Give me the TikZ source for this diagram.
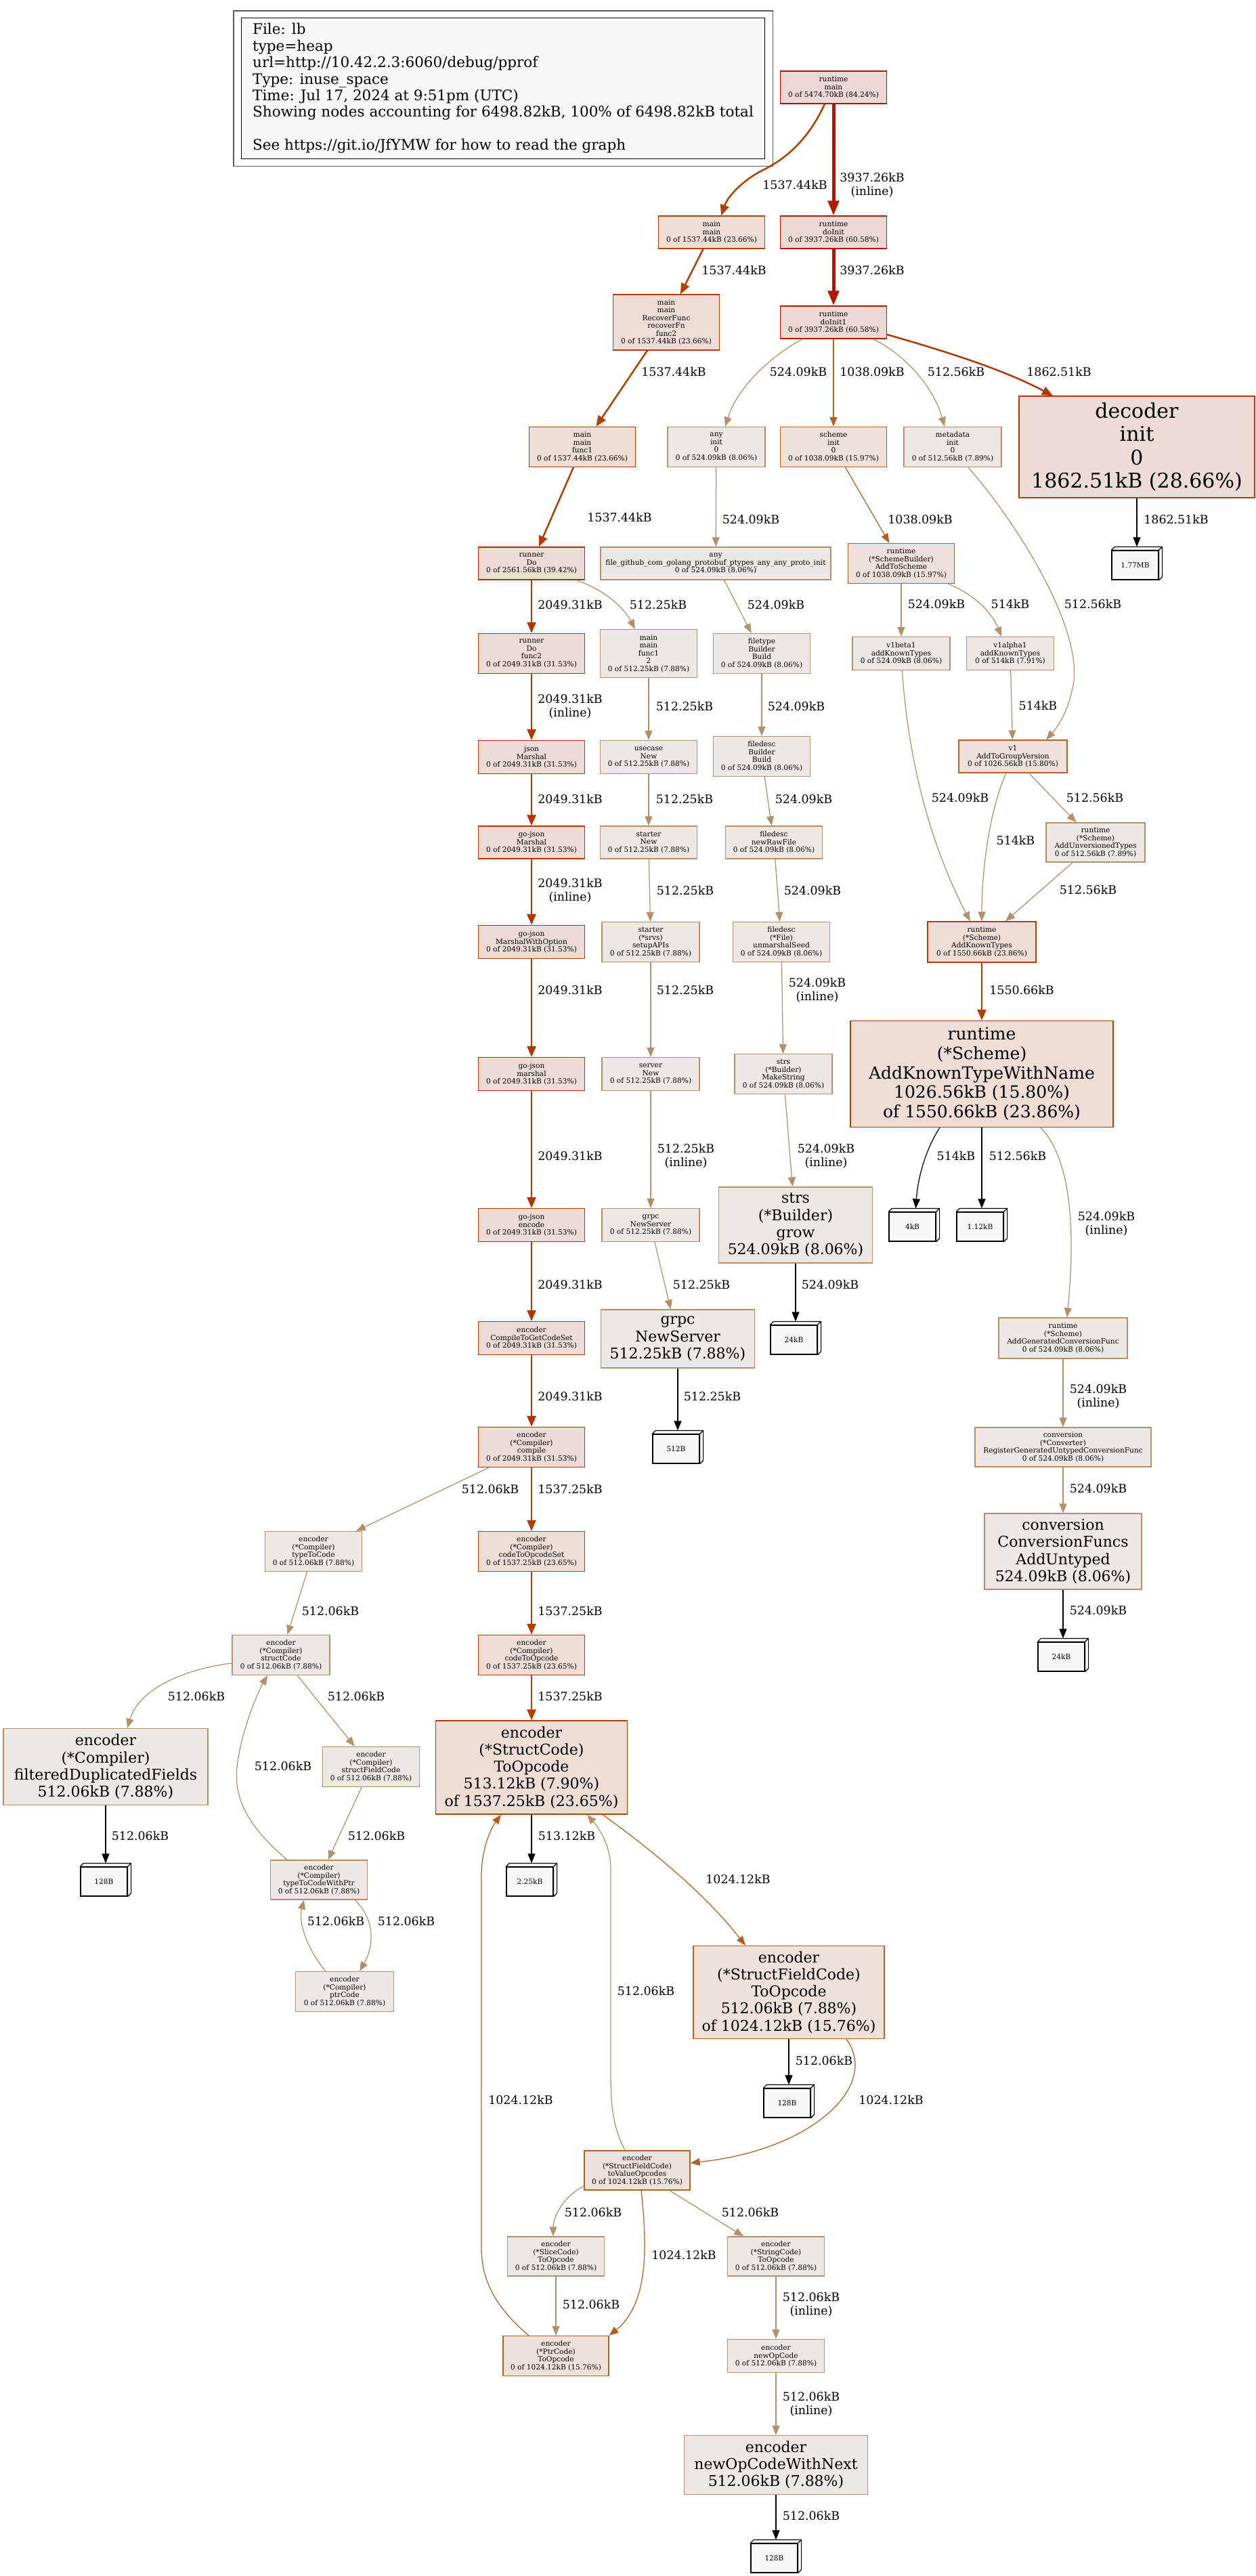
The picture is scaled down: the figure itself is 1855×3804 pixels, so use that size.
\documentclass[tikz,border=0pt]{standalone}
\usepackage{fontspec}
\setmainfont{DejaVu Serif}
\usepackage{tikz}
\usetikzlibrary{arrows.meta,calc}
% heat scale of the profile: fill / border
\definecolor{f84}{HTML}{EDD6D5}
\definecolor{f60}{HTML}{EDD8D5}
\definecolor{f39}{HTML}{EDDBD5}
\definecolor{f31}{HTML}{EDDCD5}
\definecolor{f28}{HTML}{EDDCD5}
\definecolor{f23}{HTML}{EDDDD5}
\definecolor{f15}{HTML}{EDE2DA}
\definecolor{f8} {HTML}{EDE8E3}
\definecolor{b84}{HTML}{B20800}
\definecolor{b60}{HTML}{B21800}
\definecolor{b39}{HTML}{B22B00}
\definecolor{b31}{HTML}{B23400}
\definecolor{b28}{HTML}{B23700}
\definecolor{b23}{HTML}{B23E00}
\definecolor{b15}{HTML}{B26023}
\definecolor{b8} {HTML}{B2906B}
\definecolor{cLeaf}{HTML}{F8F8F8}
\newcommand\fsmall{\fontsize{10.6}{11.5}\selectfont}
\newcommand\flabel{\fontsize{17.4}{20.5}\selectfont}
\newcommand\flegend{\fontsize{21.5}{24.4}\selectfont}
\newcommand\fbig{\fontsize{22}{25.2}\selectfont}
\newcommand\fbigger{\fontsize{25}{28.7}\selectfont}
\newcommand\fhuge{\fontsize{30}{34.5}\selectfont}
% back and side faces of a 3d leaf box
\newcommand\boxdepth[1]{%
  \filldraw[fill=cLeaf, draw=black, line width=1.2pt, line join=round]
    (#1.north west) -- ++(5pt,5pt) -- ([shift={(5pt,5pt)}]#1.north east)
    -- ([shift={(5pt,5pt)}]#1.south east) -- (#1.south east) -- (#1.north east) -- cycle
    (#1.north east) -- ++(5pt,5pt);}

\begin{document}
\begin{tikzpicture}[
    x=1pt, y=-1pt,
    fn/.style={rectangle, draw, line width=1.2pt, align=center, font=\fsmall, inner sep=2pt},
    sz/.style 2 args={minimum width=#1pt, minimum height=#2pt},
    leaf/.style={rectangle, draw=black, fill=cLeaf, line width=1.2pt,
                 minimum width=69pt, minimum height=43pt, font=\fsmall, inner sep=1pt},
    lbl/.style={font=\flabel, align=center, inner sep=0pt},
    % edge thickness follows the weight (penwidth 1, 2, 4)
    flow/.style={-{Triangle[length=14pt,width=11pt]}, line width=1.25pt},
    heavy/.style={-{Triangle[length=16pt,width=13pt]}, line width=2.5pt},
    hot/.style={-{Triangle[length=22pt,width=16pt]}, line width=5pt},
    legendbox/.style={draw=black, fill=cLeaf, line width=1.2pt, anchor=north west,
                 align=left, font=\flegend, minimum width=773pt, minimum height=205pt,
                 inner ysep=8pt},
]
\useasboundingbox (0,0) rectangle (1855,3804);

% --- Legend
\node[legendbox] (legend) at (356,26)
    {File: lb\\type=heap\\url=http://10.42.2.3:6060/debug/pprof\\Type: inuse\_space\\
     Time: Jul 17, 2024 at 9:51pm (UTC)\\
     Showing nodes accounting for 6498.82kB, 100\% of 6498.82kB total\\[24.4pt]
     See https://git.io/JfYMW for how to read the graph};
\draw[line width=1.2pt, draw=black!65] ([shift={(-11pt,10pt)}]legend.north west)
    rectangle ([shift={(11pt,-10pt)}]legend.south east);

% --- Runtime entry and init
\node[fn, fill=f84, draw=b84, sz={157}{48}] (rtmain) at (1231,129)
    {runtime\\main\\0 of 5474.70kB (84.24\%)};
\node[fn, fill=f23, draw=b23, sz={157}{48}] (mmain) at (1051,343)
    {main\\main\\0 of 1537.44kB (23.66\%)};
\node[fn, fill=f60, draw=b60, sz={157}{48}] (doinit) at (1231,343)
    {runtime\\doInit\\0 of 3937.26kB (60.58\%)};
\node[fn, fill=f23, draw=b23, sz={157}{82}] (recover) at (984,476)
    {main\\main\\RecoverFunc\\recoverFn\\func2\\0 of 1537.44kB (23.66\%)};
\node[fn, fill=f60, draw=b60, sz={157}{48}] (doinit1) at (1231,476)
    {runtime\\doInit1\\0 of 3937.26kB (60.58\%)};
\node[fn, fill=f23, draw=b23, sz={157}{59}] (mfunc1) at (860,660)
    {main\\main\\func1\\0 of 1537.44kB (23.66\%)};
\node[fn, fill=f8, draw=b8, sz={144}{59}] (anyinit) at (1058,660)
    {any\\init\\0\\0 of 524.09kB (8.06\%)};
\node[fn, fill=f15, draw=b15, sz={157}{59}] (schinit) at (1231,660)
    {scheme\\init\\0\\0 of 1038.09kB (15.97\%)};
\node[fn, fill=f8, draw=b8, sz={144}{59}] (metainit) at (1407,660)
    {metadata\\init\\0\\0 of 512.56kB (7.89\%)};
\node[fn, fill=f28, draw=b28, font=\fhuge, sz={348}{150}] (decoder) at (1679,660)
    {decoder\\init\\0\\1862.51kB (28.66\%)};

% --- Runner / protobuf / scheme rows
\node[fn, fill=f39, draw=b39, sz={157}{48}] (runner) at (785,832)
    {runner\\Do\\0 of 2561.56kB (39.42\%)};
\node[fn, fill=f8, draw=b8, sz={340}{48}] (anyfile) at (1057,832)
    {any\\file\_github\_com\_golang\_protobuf\_ptypes\_any\_any\_proto\_init\\0 of 524.09kB (8.06\%)};
\node[fn, fill=f15, draw=b15, sz={157}{59}] (addsch) at (1331,832)
    {runtime\\(*SchemeBuilder)\\AddToScheme\\0 of 1038.09kB (15.97\%)};
\node[leaf] (mb177) at (1676.5,834.5) {1.77MB};

\node[fn, fill=f31, draw=b31, sz={157}{59}] (dofunc2) at (785,965)
    {runner\\Do\\func2\\0 of 2049.31kB (31.53\%)};
\node[fn, fill=f8, draw=b8, sz={143}{71}] (mfunc12) at (958,965)
    {main\\main\\func1\\2\\0 of 512.25kB (7.88\%)};
\node[fn, fill=f8, draw=b8, sz={143}{59}] (ftbuild) at (1125,965)
    {filetype\\Builder\\Build\\0 of 524.09kB (8.06\%)};
\node[fn, fill=f8, draw=b8, sz={144}{49}] (v1beta) at (1331,965)
    {v1beta1\\addKnownTypes\\0 of 524.09kB (8.06\%)};
\node[fn, fill=f8, draw=b8, sz={129}{49}] (v1alpha) at (1492,965)
    {v1alpha1\\addKnownTypes\\0 of 514kB (7.91\%)};

\node[fn, fill=f31, draw=b31, sz={157}{49}] (json) at (785,1118)
    {json\\Marshal\\0 of 2049.31kB (31.53\%)};
\node[fn, fill=f8, draw=b8, sz={143}{49}] (usecase) at (958,1118)
    {usecase\\New\\0 of 512.25kB (7.88\%)};
\node[fn, fill=f8, draw=b8, sz={143}{59}] (fdbuild) at (1125,1117)
    {filedesc\\Builder\\Build\\0 of 524.09kB (8.06\%)};
\node[fn, fill=f15, draw=b15, sz={160}{48}] (atgv) at (1496,1117)
    {v1\\AddToGroupVersion\\0 of 1026.56kB (15.80\%)};

\node[fn, fill=f31, draw=b31, sz={157}{48}] (gjmarshal) at (785,1244)
    {go-json\\Marshal\\0 of 2049.31kB (31.53\%)};
\node[fn, fill=f8, draw=b8, sz={143}{48}] (stnew) at (958,1244)
    {starter\\New\\0 of 512.25kB (7.88\%)};
\node[fn, fill=f8, draw=b8, sz={143}{48}] (rawfile) at (1143,1244)
    {filedesc\\newRawFile\\0 of 524.09kB (8.06\%)};
\node[fn, fill=f8, draw=b8, sz={146}{58}] (unvers) at (1618,1244)
    {runtime\\(*Scheme)\\AddUnversionedTypes\\0 of 512.56kB (7.89\%)};

\node[fn, fill=f31, draw=b31, sz={157}{49}] (gjopt) at (785,1391)
    {go-json\\MarshalWithOption\\0 of 2049.31kB (31.53\%)};
\node[fn, fill=f8, draw=b8, sz={144}{59}] (setup) at (961,1391)
    {starter\\(*srvs)\\setupAPIs\\0 of 512.25kB (7.88\%)};
\node[fn, fill=f8, draw=b8, sz={143}{59}] (seed) at (1154,1391)
    {filedesc\\(*File)\\unmarshalSeed\\0 of 524.09kB (8.06\%)};
\node[fn, fill=f23, draw=b23, sz={160}{60}] (addkt) at (1450,1391)
    {runtime\\(*Scheme)\\AddKnownTypes\\0 of 1550.66kB (23.86\%)};

\node[fn, fill=f31, draw=b31, sz={157}{49}] (gjlow) at (785,1586)
    {go-json\\marshal\\0 of 2049.31kB (31.53\%)};
\node[fn, fill=f8, draw=b8, sz={144}{49}] (srvnew) at (961,1586)
    {server\\New\\0 of 512.25kB (7.88\%)};
\node[fn, fill=f8, draw=b8, sz={144}{59}] (mkstr) at (1157,1586)
    {strs\\(*Builder)\\MakeString\\0 of 524.09kB (8.06\%)};
\node[fn, fill=f23, draw=b23, font=\fbigger, sz={388}{157}] (addktwn) at (1450,1586)
    {runtime\\(*Scheme)\\AddKnownTypeWithName\\1026.56kB (15.80\%)\\of 1550.66kB (23.86\%)};

\node[fn, fill=f31, draw=b31, sz={157}{49}] (gjenc) at (785,1809)
    {go-json\\encode\\0 of 2049.31kB (31.53\%)};
\node[fn, fill=f8, draw=b8, sz={144}{49}] (grpcns) at (961,1809)
    {grpc\\NewServer\\0 of 512.25kB (7.88\%)};
\node[fn, fill=f8, draw=b8, font=\fbig, sz={227}{112}] (grow) at (1175,1809)
    {strs\\(*Builder)\\grow\\524.09kB (8.06\%)};
\node[leaf] (kb4) at (1347.5,1811.5) {4kB};
\node[leaf] (kb112) at (1447.5,1811.5) {1.12kB};

\node[fn, fill=f31, draw=b31, sz={157}{49}] (getcs) at (785,1976)
    {encoder\\CompileToGetCodeSet\\0 of 2049.31kB (31.53\%)};
\node[fn, fill=f8, draw=b8, font=\fbig, sz={227}{86}] (grpcbig) at (1001,1977)
    {grpc\\NewServer\\512.25kB (7.88\%)};
\node[leaf] (kb24a) at (1172.5,1978.5) {24kB};
\node[fn, fill=f8, draw=b8, sz={190}{60}] (gencf) at (1570,1976)
    {runtime\\(*Scheme)\\AddGeneratedConversionFunc\\0 of 524.09kB (8.06\%)};

% --- Encoder
\node[fn, fill=f31, draw=b31, sz={157}{59}] (compile) at (785,2137)
    {encoder\\(*Compiler)\\compile\\0 of 2049.31kB (31.53\%)};
\node[leaf] (b512) at (998.5,2139.5) {512B};
\node[fn, fill=f8, draw=b8, sz={260}{58}] (reguntyped) at (1570,2137)
    {conversion\\(*Converter)\\RegisterGeneratedUntypedConversionFunc\\0 of 524.09kB (8.06\%)};

\node[fn, fill=f8, draw=b8, sz={143}{59}] (typecode) at (463,2291)
    {encoder\\(*Compiler)\\typeToCode\\0 of 512.06kB (7.88\%)};
\node[fn, fill=f23, draw=b23, sz={157}{59}] (opset) at (785,2291)
    {encoder\\(*Compiler)\\codeToOpcodeSet\\0 of 1537.25kB (23.65\%)};
\node[fn, fill=f8, draw=b8, font=\fbig, sz={232}{112}] (untyped) at (1570,2291)
    {conversion\\ConversionFuncs\\AddUntyped\\524.09kB (8.06\%)};

\node[fn, fill=f8, draw=b8, sz={144}{59}] (structc) at (415,2444)
    {encoder\\(*Compiler)\\structCode\\0 of 512.06kB (7.88\%)};
\node[fn, fill=f23, draw=b23, sz={157}{59}] (opcode) at (785,2444)
    {encoder\\(*Compiler)\\codeToOpcode\\0 of 1537.25kB (23.65\%)};
\node[leaf] (kb24b) at (1567.5,2446.5) {24kB};

\node[fn, fill=f8, draw=b8, font=\fbig, sz={302}{113}] (filtdup) at (156,2609)
    {encoder\\(*Compiler)\\filteredDuplicatedFields\\512.06kB (7.88\%)};
\node[fn, fill=f8, draw=b8, sz={143}{59}] (fieldc) at (548,2609)
    {encoder\\(*Compiler)\\structFieldCode\\0 of 512.06kB (7.88\%)};
\node[fn, fill=f23, draw=b23, font=\fbig, sz={283}{138}] (scto) at (785,2610)
    {encoder\\(*StructCode)\\ToOpcode\\513.12kB (7.90\%)\\of 1537.25kB (23.65\%)};

\node[leaf] (b128a) at (153.5,2778.5) {128B};
\node[fn, fill=f8, draw=b8, sz={143}{58}] (withptr) at (471,2776)
    {encoder\\(*Compiler)\\typeToCodeWithPtr\\0 of 512.06kB (7.88\%)};
\node[leaf] (kb225) at (782.5,2778.5) {2.25kB};

\node[fn, fill=f8, draw=b8, sz={145}{59}] (ptrc) at (509,2941)
    {encoder\\(*Compiler)\\ptrCode\\0 of 512.06kB (7.88\%)};
\node[fn, fill=f15, draw=b15, font=\fbig, sz={282}{137}] (sfcto) at (1165,2942)
    {encoder\\(*StructFieldCode)\\ToOpcode\\512.06kB (7.88\%)\\of 1024.12kB (15.76\%)};
\node[leaf] (b128b) at (1162.5,3105.5) {128B};

\node[fn, fill=f15, draw=b15, sz={156}{58}] (valops) at (941,3205)
    {encoder\\(*StructFieldCode)\\toValueOpcodes\\0 of 1024.12kB (15.76\%)};
\node[fn, fill=f8, draw=b8, sz={143}{58}] (slicec) at (821,3332)
    {encoder\\(*SliceCode)\\ToOpcode\\0 of 512.06kB (7.88\%)};
\node[fn, fill=f8, draw=b8, sz={143}{58}] (stringc) at (1146,3332)
    {encoder\\(*StringCode)\\ToOpcode\\0 of 512.06kB (7.88\%)};
\node[fn, fill=f15, draw=b15, sz={156}{59}] (ptrto) at (821,3479)
    {encoder\\(*PtrCode)\\ToOpcode\\0 of 1024.12kB (15.76\%)};
\node[fn, fill=f8, draw=b8, sz={143}{49}] (newop) at (1146,3479)
    {encoder\\newOpCode\\0 of 512.06kB (7.88\%)};
\node[fn, fill=f8, draw=b8, font=\fbig, sz={271}{87}] (newopnext) at (1146,3640)
    {encoder\\newOpCodeWithNext\\512.06kB (7.88\%)};
\node[leaf] (b128c) at (1143.5,3777.5) {128B};

\boxdepth{mb177} \boxdepth{kb4} \boxdepth{kb112} \boxdepth{kb24a} \boxdepth{b512}
\boxdepth{kb24b} \boxdepth{b128a} \boxdepth{kb225} \boxdepth{b128b} \boxdepth{b128c}

% --- Calls: runtime entry and init
\draw[heavy, draw=b23] ([xshift=-13pt]rtmain.south) .. controls (1190,215) and (1150,240) .. (1125,252)
    .. controls (1095,268) and (1075,290) .. ([xshift=14pt]mmain.north) node[lbl] at (1174,273) {1537.44kB};
\draw[hot, draw=b60] (rtmain) -- (doinit) node[lbl] at (1288,273) {3937.26kB\\(inline)};
\draw[heavy, draw=b23] (mmain) -- (recover) node[lbl] at (1084,399) {1537.44kB};
\draw[hot, draw=b60] (doinit) -- (doinit1) node[lbl] at (1288,399) {3937.26kB};
\draw[heavy, draw=b23] (recover) -- (mfunc1) node[lbl] at (995,549) {1537.44kB};
\draw[heavy, draw=b23] (mfunc1) -- (runner) node[lbl] at (915,764) {1537.44kB};
\draw[flow, draw=b8] ([xshift=-46pt]doinit1.south) .. controls (1140,525) and (1090,570)
    .. ([xshift=13pt]anyinit.north) node[lbl] at (1179,549) {524.09kB};
\draw[flow, draw=b15] (doinit1) -- (schinit) node[lbl] at (1288,549) {1038.09kB};
\draw[flow, draw=b8] ([xshift=58pt]doinit1.south) .. controls (1340,525) and (1380,575)
    .. ([xshift=-12pt]metainit.north) node[lbl] at (1412,549) {512.56kB};
\draw[heavy, draw=b28] ([yshift=-18pt]doinit1.east) .. controls (1400,520) and (1480,545)
    .. ([xshift=-124pt]decoder.north) node[lbl] at (1564,549) {1862.51kB};
\draw[flow, draw=b8] (anyinit) -- (anyfile) node[lbl] at (1109,767) {524.09kB};
\draw[flow, draw=b15] (schinit) -- (addsch) node[lbl] at (1359,767) {1038.09kB};
\draw[flow, draw=b8] ([xshift=23pt]metainit.south) .. controls (1500,770) and (1595,920) .. (1586,1005)
    .. controls (1580,1045) and (1565,1070) .. ([xshift=49pt]atgv.north) node[lbl] at (1614,892) {512.56kB};
\draw[flow] (decoder) -- ([xshift=2.5pt,yshift=5pt]mb177.north) node[lbl] at (1737,767) {1862.51kB};

% --- Calls: runner, protobuf, scheme
\draw[heavy, draw=b31] (runner) -- (dofunc2) node[lbl] at (842,893) {2049.31kB};
\draw[flow, draw=b8] ([xshift=66pt]runner.south) .. controls (890,870) and (920,895)
    .. ([xshift=-20pt]mfunc12.north) node[lbl] at (972,893) {512.25kB};
\draw[flow, draw=b8] (anyfile) -- (ftbuild) node[lbl] at (1146,893) {524.09kB};
\draw[flow, draw=b8] (addsch) -- (v1beta) node[lbl] at (1383,892) {524.09kB};
\draw[flow, draw=b8] ([xshift=69pt]addsch.south) .. controls (1440,878) and (1465,905)
    .. ([xshift=-13pt]v1alpha.north) node[lbl] at (1492,892) {514kB};
\draw[heavy, draw=b31] (dofunc2) -- (json) node[lbl] at (842,1043) {2049.31kB\\(inline)};
\draw[flow, draw=b8] (mfunc12) -- (usecase) node[lbl] at (1011,1043) {512.25kB};
\draw[flow, draw=b8] (ftbuild) -- (fdbuild) node[lbl] at (1176,1043) {524.09kB};
\draw[flow, draw=b8] (v1alpha) -- (atgv) node[lbl] at (1533,1042) {514kB};
\draw[flow, draw=b8] (v1beta) .. controls (1340,1110) and (1370,1240)
    .. ([xshift=-17pt]addkt.north) node[lbl] at (1418,1178) {524.09kB};
\draw[heavy, draw=b31] (json) -- (gjmarshal) node[lbl] at (842,1180) {2049.31kB};
\draw[flow, draw=b8] (usecase) -- (stnew) node[lbl] at (1011,1180) {512.25kB};
\draw[flow, draw=b8] (fdbuild) -- (rawfile) node[lbl] at (1187,1180) {524.09kB};
\draw[flow, draw=b8] (atgv) -- (unvers) node[lbl] at (1617,1178) {512.56kB};
\draw[flow, draw=b8] ([xshift=-10pt]atgv.south) .. controls (1460,1200) and (1450,1290)
    .. (addkt.north) node[lbl] at (1500,1241) {514kB};
\draw[heavy, draw=b31] (gjmarshal) -- (gjopt) node[lbl] at (842,1315) {2049.31kB\\(inline)};
\draw[flow, draw=b8] (stnew) -- (setup) node[lbl] at (1012,1315) {512.25kB};
\draw[flow, draw=b8] (rawfile) -- (seed) node[lbl] at (1200,1315) {524.09kB};
\draw[flow, draw=b8] (unvers) -- (addkt) node[lbl] at (1607,1314) {512.56kB};
\draw[heavy, draw=b31] (gjopt) -- (gjlow) node[lbl] at (842,1462) {2049.31kB};
\draw[flow, draw=b8] (setup) -- (srvnew) node[lbl] at (1012,1462) {512.25kB};
\draw[flow, draw=b8] (seed) -- (mkstr) node[lbl] at (1207,1462) {524.09kB\\(inline)};
\draw[heavy, draw=b23] (addkt) -- (addktwn) node[lbl] at (1509,1462) {1550.66kB};
\draw[heavy, draw=b31] (gjlow) -- (gjenc) node[lbl] at (842,1707) {2049.31kB};
\draw[flow, draw=b8] (srvnew) -- (grpcns) node[lbl] at (1013,1707) {512.25kB\\(inline)};
\draw[flow, draw=b8] (mkstr) -- (grow) node[lbl] at (1220,1707) {524.09kB\\(inline)};
\draw[flow] ([xshift=-62pt]addktwn.south) .. controls (1365,1700) and (1355,1745)
    .. ([xshift=5pt,yshift=5pt]kb4.north) node[lbl] at (1412,1707) {514kB};
\draw[flow] (addktwn) -- ([xshift=2.5pt,yshift=5pt]kb112.north) node[lbl] at (1503,1707) {512.56kB};
\draw[flow, draw=b8] ([xshift=87pt]addktwn.south) .. controls (1590,1720) and (1585,1850)
    .. ([xshift=6pt]gencf.north) node[lbl] at (1634,1807) {524.09kB\\(inline)};
\draw[heavy, draw=b31] (gjenc) -- (getcs) node[lbl] at (842,1897) {2049.31kB};
\draw[flow, draw=b8] (grpcns) -- (grpcbig) node[lbl] at (1036,1897) {512.25kB};
\draw[flow] (grow) -- ([xshift=2.5pt,yshift=5pt]kb24a.north) node[lbl] at (1226,1897) {524.09kB};
\draw[heavy, draw=b31] (getcs) -- (compile) node[lbl] at (842,2062) {2049.31kB};
\draw[flow] (grpcbig) -- ([xshift=2.5pt,yshift=5pt]b512.north) node[lbl] at (1052,2062) {512.25kB};
\draw[flow, draw=b8] (gencf) -- (reguntyped) node[lbl] at (1622,2062) {524.09kB\\(inline)};

% --- Calls: encoder
\draw[flow, draw=b8] (compile) -- (typecode) node[lbl] at (724,2199) {512.06kB};
\draw[heavy, draw=b23] (compile) -- (opset) node[lbl] at (842,2199) {1537.25kB};
\draw[flow, draw=b8] (reguntyped) -- (untyped) node[lbl] at (1622,2198) {524.09kB};
\draw[flow, draw=b8] (typecode) -- (structc) node[lbl] at (488,2379) {512.06kB};
\draw[heavy, draw=b23] (opset) -- (opcode) node[lbl] at (842,2379) {1537.25kB};
\draw[flow] (untyped) -- ([xshift=2.5pt,yshift=5pt]kb24b.north) node[lbl] at (1622,2378) {524.09kB};
\draw[flow, draw=b8] ([yshift=-12pt]structc.west) .. controls (270,2465) and (205,2495)
    .. ([xshift=32pt]filtdup.north) node[lbl] at (290,2505) {512.06kB};
\draw[flow, draw=b8] (structc) -- (fieldc) node[lbl] at (526,2505) {512.06kB};
\draw[heavy, draw=b23] (opcode) -- (scto) node[lbl] at (842,2505) {1537.25kB};
\draw[flow, draw=b8] ([xshift=-47pt]withptr.north) .. controls (370,2700) and (345,2660) .. (350,2610)
    .. controls (355,2560) and (380,2500) .. ([xshift=-20pt]structc.south) node[lbl] at (418,2608) {512.06kB};
\draw[flow] (filtdup) -- ([xshift=2.5pt,yshift=5pt]b128a.north) node[lbl] at (207,2711) {512.06kB};
\draw[flow, draw=b8] (fieldc) -- (withptr) node[lbl] at (556,2711) {512.06kB};
\draw[flow] (scto) -- ([xshift=2.5pt,yshift=5pt]kb225.north) node[lbl] at (837,2711) {513.12kB};
\draw[flow, draw=b15] ([xshift=105pt]scto.south) .. controls (960,2730) and (1040,2795)
    .. ([xshift=-64pt]sfcto.north) node[lbl] at (1090,2775) {1024.12kB};
\draw[flow, draw=b8] ([xshift=53pt]withptr.south) .. controls (555,2835) and (552,2875)
    .. ([xshift=22pt]ptrc.north) node[lbl] at (600,2837) {512.06kB};
\draw[flow, draw=b8] ([xshift=-28pt]ptrc.north) .. controls (455,2880) and (440,2840)
    .. ([xshift=-22pt]withptr.south) node[lbl] at (496,2837) {512.06kB};
\draw[flow, draw=b8] ([xshift=-18pt]valops.north) .. controls (905,3140) and (902,3110) .. (902,3060)
    -- (902,2760) .. controls (902,2725) and (885,2700) .. ([xshift=82pt]scto.south)
    node[lbl] at (954,2940) {512.06kB};
\draw[flow] (sfcto) -- ([xshift=2.5pt,yshift=5pt]b128b.north) node[lbl] at (1217,3043) {512.06kB};
\draw[flow, draw=b15] ([xshift=85pt]sfcto.south) .. controls (1300,3080) and (1200,3175)
    .. ([yshift=11pt]valops.east) node[lbl] at (1316,3101) {1024.12kB};
\draw[flow, draw=b15] ([xshift=-40pt]ptrto.north) .. controls (735,3410) and (711,3370) .. (711,3320)
    -- (711,2770) .. controls (711,2730) and (725,2700) .. ([xshift=-45pt]scto.south)
    node[lbl] at (769,3101) {1024.12kB};
\draw[flow, draw=b8] ([yshift=-23pt]valops.west) .. controls (830,3245) and (817,3275)
    .. ([xshift=-4pt]slicec.north) node[lbl] at (876,3267) {512.06kB};
\draw[flow, draw=b8] (valops) -- (stringc) node[lbl] at (1108,3267) {512.06kB};
\draw[flow, draw=b15] ([xshift=6pt]valops.south) .. controls (955,3310) and (960,3400)
    .. (ptrto.north east) node[lbl] at (1010,3330) {1024.12kB};
\draw[flow, draw=b8] (slicec) -- (ptrto) node[lbl] at (873,3403) {512.06kB};
\draw[flow, draw=b8] (stringc) -- (newop) node[lbl] at (1198,3403) {512.06kB\\(inline)};
\draw[flow, draw=b8] (newop) -- (newopnext) node[lbl] at (1198,3550) {512.06kB\\(inline)};
\draw[flow] (newopnext) -- ([xshift=2.5pt,yshift=5pt]b128c.north) node[lbl] at (1198,3715) {512.06kB};
\end{tikzpicture}
\end{document}
